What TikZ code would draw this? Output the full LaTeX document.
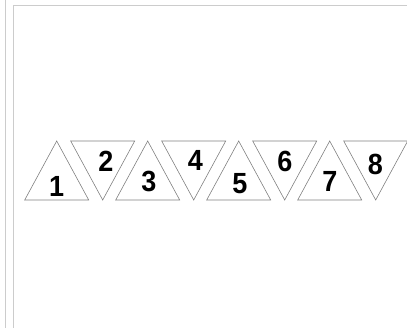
\documentclass[tikz,border=0pt]{standalone}
\usepackage{fontspec}
\setmainfont{Liberation Sans}
\begin{document}
\begin{tikzpicture}[x=1pt,y=-1pt,
  frame/.style={draw=black!20,line width=1.3pt},
  tri/.style={draw=black!50,line width=0.6pt,line join=miter},
  num/.style={font=\bfseries\fontsize{27}{27}\selectfont,inner sep=0pt,anchor=center,yscale=1.08}]
\useasboundingbox (0,0) rectangle (407,328);
% frame lines
\coordinate (fa) at (5.5,0);
\coordinate (fb) at (5.5,328);
\coordinate (fc) at (13.5,328);
\coordinate (fd) at (13.5,5.5);
\coordinate (fe) at (407,5.5);
\draw[frame] (fa) -- (fb);
\draw[frame] (fc) -- (fd) -- (fe);
% up triangles
\foreach \i/\cx in {1/56.7,3/147.7,5/238.7,7/329.7}{
  \coordinate (t\i a) at (\cx-32,200);
  \coordinate (t\i b) at (\cx+32,200);
  \coordinate (t\i c) at (\cx,141);
  \draw[tri] (t\i a) -- (t\i b) -- (t\i c) -- cycle;
}
% down triangles
\foreach \i/\cx in {2/102.7,4/193.7,6/284.7,8/375.7}{
  \coordinate (t\i a) at (\cx-32,141);
  \coordinate (t\i b) at (\cx+32,141);
  \coordinate (t\i c) at (\cx,200);
  \draw[tri] (t\i a) -- (t\i b) -- (t\i c) -- cycle;
}
% labels
\node[num] (n1) at (56.7,186.5) {1};
\node[num] (n2) at (106,161) {2};
\node[num] (n3) at (149,181.5) {3};
\node[num] (n4) at (195.5,160) {4};
\node[num] (n5) at (240,184) {5};
\node[num] (n6) at (285,161.5) {6};
\node[num] (n7) at (330,181) {7};
\node[num] (n8) at (375.5,164) {8};
\end{tikzpicture}
\end{document}
